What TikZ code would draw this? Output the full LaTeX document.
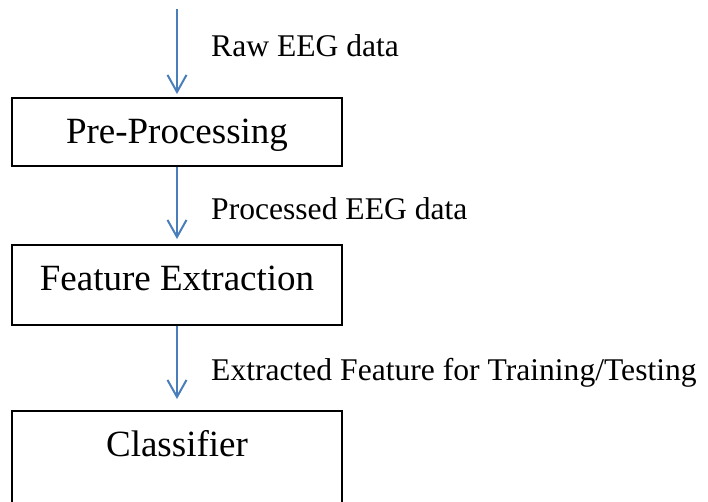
\documentclass[tikz,border=0pt]{standalone}
\usepackage{fontspec}
\setmainfont{Liberation Serif}
\usetikzlibrary{arrows.meta}
\definecolor{flowblue}{HTML}{4A7EBB}
\tikzset{
  stagebox/.style={draw=black, line width=1.8pt, anchor=north,
    minimum width=330pt, inner xsep=0pt, inner ysep=19pt,
    text height=27pt, font=\fontsize{37}{40}\selectfont},
  flow/.style={draw=flowblue, line width=2pt,
    -{Straight Barb[length=17pt,width=19pt]}},
  flowlabel/.style={anchor=base west, inner sep=0pt,
    font=\fontsize{31.6}{34}\selectfont}
}
\begin{document}
\begin{tikzpicture}[x=1pt, y=-1pt]
  \useasboundingbox (0,0) rectangle (708,501);
  \clip (0,0) rectangle (708,501);
  \fill[white] (0,0) rectangle (708,501);

  % processing stages
  \node[stagebox, text depth=3pt]  (pre)  at (177,97)  {Pre-Processing};
  \node[stagebox, text depth=15pt] (feat) at (177,244) {Feature Extraction};
  \node[stagebox, text depth=80pt] (cls)  at (177,410) {Classifier};

  % data flow
  \coordinate (src) at (177,9);
  \draw[flow, shorten >=3pt]  (src) -- (pre.north);
  \draw[flow, shorten >=5pt]  (pre.south) -- (feat.north);
  \draw[flow, shorten >=11pt] (feat.south) -- (cls.north);

  % data labels
  \node[flowlabel] (rawlbl)  at (211,56)  {Raw EEG data};
  \node[flowlabel] (proclbl) at (211,219) {Processed EEG data};
  \node[flowlabel] (extlbl)  at (211,380) {Extracted Feature for Training/Testing};
\end{tikzpicture}
\end{document}
